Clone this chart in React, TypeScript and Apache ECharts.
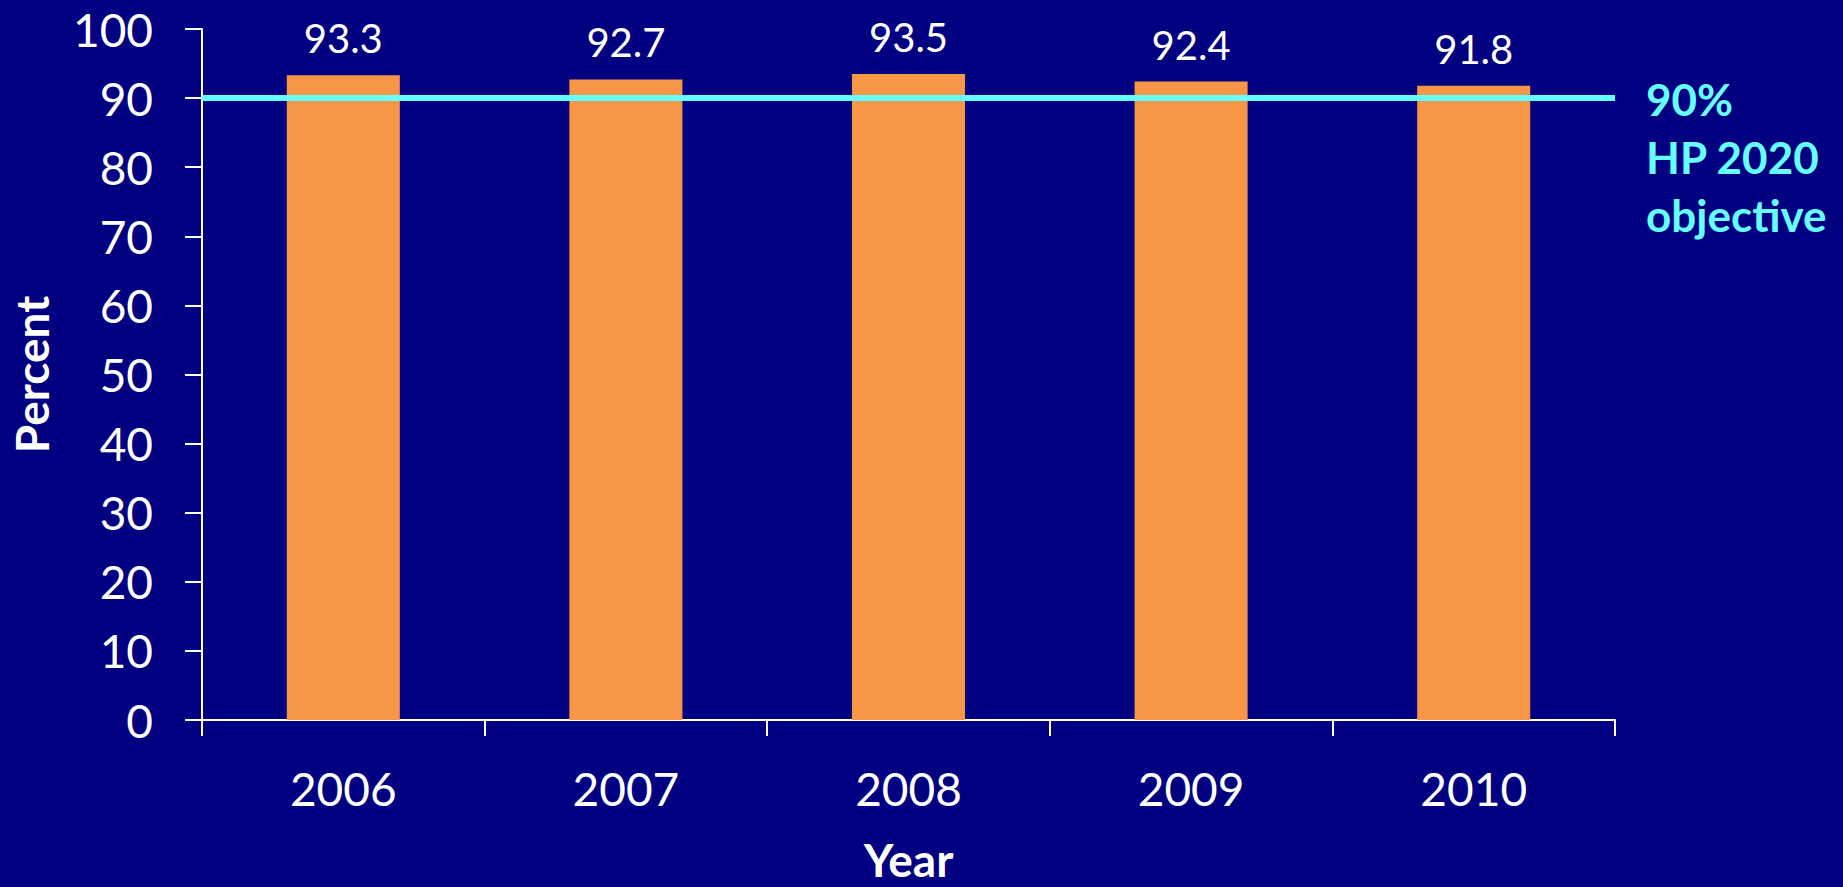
import React, { useEffect, useRef } from "react";
import * as echarts from "echarts";

// Chart data
const years = ["2006", "2007", "2008", "2009", "2010"];
const percentValues = [93.3, 92.7, 93.5, 92.4, 91.8];
const objectiveValue = 90;
const objectiveLabel = ["90%", "HP 2020", "objective"];
const yTicks = { min: 0, max: 100, interval: 10 };

const NAVY = "#000080";
const ORANGE = "#F79646";
const CYAN = "#66FFFF";
const FONT = "Lato, 'Open Sans', sans-serif";

export default function App() {
  const ref = useRef<HTMLDivElement>(null);

  useEffect(() => {
    if (!ref.current) return;
    const chart = echarts.init(ref.current, undefined, { renderer: "svg" });
    chart.setOption({
      animation: false,
      backgroundColor: NAVY,
      textStyle: { fontFamily: FONT },
      grid: { left: 202, right: 228, top: 29, bottom: 159, containLabel: false },
      xAxis: {
        type: "category",
        data: years,
        boundaryGap: true,
        name: "Year",
        nameLocation: "middle",
        nameGap: 116,
        nameTextStyle: { color: "#fff", fontSize: 46, fontWeight: "bold", fontFamily: FONT },
        axisLine: { show: true, lineStyle: { color: "#fff", width: 2 } },
        axisTick: { show: true, alignWithLabel: false, interval: 0, length: 16, lineStyle: { color: "#fff", width: 2 } },
        axisLabel: { color: "#fff", fontSize: 46, fontFamily: FONT, margin: 45 },
        splitLine: { show: false },
      },
      yAxis: {
        type: "value",
        min: yTicks.min,
        max: yTicks.max,
        interval: yTicks.interval,
        name: "Percent",
        nameLocation: "middle",
        nameRotate: 90,
        nameGap: 148,
        nameTextStyle: { color: "#fff", fontSize: 46, fontWeight: "bold", fontFamily: FONT },
        axisLine: { show: true, lineStyle: { color: "#fff", width: 2 } },
        axisTick: { show: true, length: 17, lineStyle: { color: "#fff", width: 2 } },
        axisLabel: { color: "#fff", fontSize: 46, fontFamily: FONT, margin: 49 },
        splitLine: { show: false },
      },
      series: [
        {
          type: "bar",
          data: percentValues,
          barWidth: "40%",
          itemStyle: { color: ORANGE },
          label: {
            show: true,
            position: "top",
            distance: 17,
            color: "#fff",
            fontSize: 40,
            fontFamily: FONT,
            formatter: (p: any) => p.value.toFixed(1),
          },
          markLine: {
            silent: true,
            symbol: "none",
            lineStyle: { color: CYAN, width: 6, type: "solid" },
            data: [{ yAxis: objectiveValue }],
            label: {
              show: true,
              position: "end",
              distance: 31,
              formatter: objectiveLabel.join("\n"),
              color: CYAN,
              fontSize: 44,
              fontWeight: "bold",
              fontFamily: FONT,
              lineHeight: 58,
              align: "left",
              verticalAlign: "top",
              offset: [0, -28],
            },
          },
        },
      ],
    });
    return () => chart.dispose();
  }, []);

  return (
    <div
      ref={ref}
      style={{ position: "fixed", left: 0, top: 0, width: 1843, height: 887, background: NAVY }}
    />
  );
}
